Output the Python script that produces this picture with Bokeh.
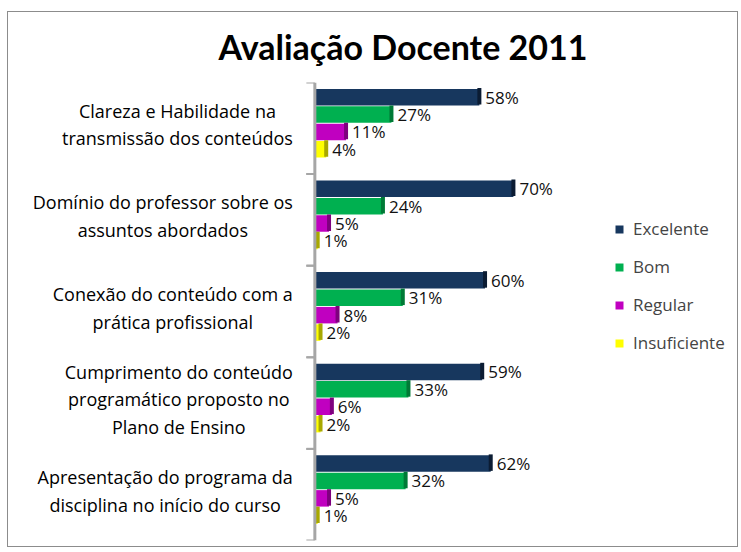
from bokeh.plotting import figure
from bokeh.models import ColumnDataSource, Legend, LegendItem, FactorRange, Range1d, Span
from bokeh.transform import dodge
from bokeh.core.properties import value
from bokeh.embed import file_html
from bokeh.resources import INLINE

categories = [
    "Clareza e Habilidade na\ntransmissão dos conteúdos",
    "Domínio do professor sobre os\nassuntos abordados",
    "Conexão do conteúdo com a\nprática profissional",
    "Cumprimento do conteúdo\nprogramático proposto no\nPlano de Ensino",
    "Apresentação do programa da\ndisciplina no início do curso",
]
series = ["Excelente", "Bom", "Regular", "Insuficiente"]
excelente = [58, 70, 60, 59, 62]
bom = [27, 24, 31, 33, 32]
regular = [11, 5, 8, 6, 5]
insuficiente = [4, 1, 2, 2, 1]
values_by_series = [excelente, bom, regular, insuficiente]

colors = ["#17375E", "#00B050", "#C000C0", "#FFFF00"]
cap_colors = ["#0B1C33", "#007A36", "#7E007E", "#A8A800"]
offsets = [0.34, 0.15, -0.04, -0.23]

p = figure(width=731, height=536,
           y_range=FactorRange(*reversed(categories)),
           x_range=Range1d(-108, 149),
           output_backend="svg", toolbar_location=None,
           min_border_left=0, min_border_right=2,
           min_border_top=68, min_border_bottom=8)

p.title.text = "Avaliação Docente 2011"
p.title.text_font = "Lato"
p.title.text_font_size = "34px"
p.title.text_font_style = "bold"
p.title.text_color = "#000000"
p.title.align = "left"
p.title.offset = 210
p.title.standoff = 27
p.title.vertical_align = "top"

# category labels (block right-aligned, lines centred)
cat_src = ColumnDataSource(dict(cat=categories))
p.text(x=0, y=dodge("cat", 0.04, range=p.y_range), text="cat", source=cat_src,
       x_offset=-22, anchor="center_right", text_align="center",
       text_baseline="middle", text_line_height=1.15,
       text_font=value("Open Sans"), text_font_size="18px", text_color="#000000")

# wall line and boundary ticks
p.add_layout(Span(location=0, dimension="height", line_color="#A6A6A6", line_width=3))
tick_src = ColumnDataSource(dict(cat=categories))
p.segment(x0=-3, x1=0, y0=dodge("cat", 0.5, range=p.y_range),
          y1=dodge("cat", 0.5, range=p.y_range), source=tick_src,
          line_color="#A6A6A6", line_width=2)
p.segment(x0=-3, x1=0, y0=dodge("cat", -0.5, range=p.y_range),
          y1=dodge("cat", -0.5, range=p.y_range), source=tick_src,
          line_color="#A6A6A6", line_width=2)

items = []
for name, vals, col, cap, off in zip(series, values_by_series, colors, cap_colors, offsets):
    src = ColumnDataSource(dict(cat=categories, v=vals,
                                lab=[f"{x}%" for x in vals]))
    r = p.hbar(y=dodge("cat", off, range=p.y_range), left=0, right="v",
               height=0.18, source=src, fill_color=col, line_color=None)
    p.rect(x="v", y=dodge("cat", off + 0.01, range=p.y_range), width=4,
           width_units="screen", height=0.18, source=src,
           fill_color=cap, line_color=None)
    p.text(x="v", y=dodge("cat", off, range=p.y_range), text="lab",
           source=src, x_offset=6, text_baseline="middle",
           text_font=value("Open Sans"), text_font_size="17px", text_color="#111111")
    items.append(LegendItem(label=name, renderers=[r]))

legend = Legend(items=items, location=(606, 186))
legend.border_line_color = None
legend.background_fill_alpha = 0
legend.padding = 0
legend.margin = 0
legend.spacing = 15
legend.glyph_width = 10
legend.glyph_height = 10
legend.label_standoff = 9
legend.label_text_font = "Open Sans"
legend.label_text_font_size = "17px"
p.add_layout(legend)

p.xaxis.visible = False
p.yaxis.visible = False
p.grid.visible = False
p.outline_line_color = None

p.styles = {"border": "1px solid #8C8C8C", "margin-left": "7px", "margin-top": "11px"}

open("out.html", "w").write(file_html(p, INLINE))
